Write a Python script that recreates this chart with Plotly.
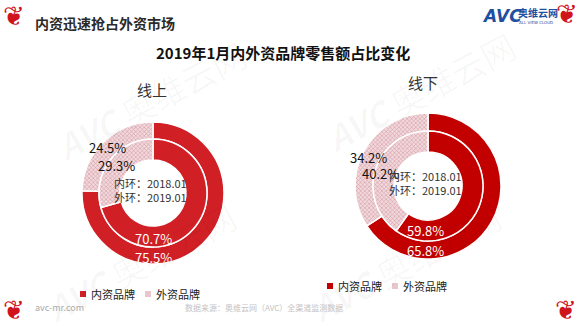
import plotly.graph_objects as go

W, H = 580, 326

# ---- data ----
labels = ["内资品牌", "外资品牌"]
online_2019 = [75.5, 24.5]    # outer ring
online_2018 = [70.7, 29.3]    # inner ring
offline_2019 = [65.8, 34.2]   # outer ring
offline_2018 = [59.8, 40.2]   # inner ring
panel_titles = ["线上", "线下"]
ring_notes = ["内环：2018.01", "外环：2019.01"]
chart_title = "2019年1月内外资品牌零售额占比变化"
header = "内资迅速抢占外资市场"
source = "数据来源：奥维云网（AVC）全渠道监测数据"
site = "avc-mr.com"

RED_L = "#D11F26"
RED_R = "#C20000"
PINK_BG = "#F0D8DC"
PINK_FG = "#D69AA3"
FONT = "Noto Sans CJK SC"


def px(x, y):
    return x / W, 1 - y / H


def dom(cx, cy, r):
    return dict(x=[(cx - r) / W, (cx + r) / W], y=[1 - (cy + r) / H, 1 - (cy - r) / H])


fig = go.Figure()

panels = [
    dict(outer=online_2019, inner=online_2018, cx=153, cy=193, r=71, ri=54, rh=33, red=RED_L,
         title_xy=(152, 90),
         lab_out=[(0, 64), (-46, -46)], lab_in=[(0, 45), (-37, -28)]),
    dict(outer=offline_2019, inner=offline_2018, cx=428, cy=186, r=73, ri=55, rh=34, red=RED_R,
         title_xy=(423, 83),
         lab_out=[(-3, 64), (-60, -29)], lab_in=[(-3, 44), (-48, -13)]),
]

annotations = []
for i, p in enumerate(panels):
    for vals, rad, hole, offs in [(p["outer"], p["r"], p["ri"] / p["r"], p["lab_out"]),
                                  (p["inner"], p["ri"], p["rh"] / p["ri"], p["lab_in"])]:
        fig.add_trace(go.Pie(
            labels=labels, values=vals, sort=False, direction="clockwise", rotation=0,
            hole=hole, domain=dom(p["cx"], p["cy"], rad), textinfo="none",
            hoverinfo="label+value", showlegend=False,
            marker=dict(colors=[p["red"], PINK_BG], line=dict(color="white", width=1.5),
                        pattern=dict(shape=["", "x"], fgcolor=PINK_FG, bgcolor=PINK_BG,
                                     size=3, solidity=0.35)),
        ))
        for v, (dx, dy), col in zip(vals, offs, ["white", "#111111"]):
            x, y = px(p["cx"] + dx, p["cy"] + dy)
            annotations.append(dict(x=x, y=y, text=f"{v:.1f}%", showarrow=False,
                                    font=dict(size=13, color=col, family=FONT),
                                    xanchor="center", yanchor="middle"))
    for k, note in enumerate(ring_notes):
        x, y = px(p["cx"] - 3, p["cy"] - 10 + 14 * k)
        annotations.append(dict(x=x, y=y, text=note, showarrow=False,
                                font=dict(size=11, color="#333333", family=FONT),
                                xanchor="center", yanchor="middle"))
    x, y = px(*p["title_xy"])
    annotations.append(dict(x=x, y=y, text=panel_titles[i], showarrow=False,
                            font=dict(size=15, color="#333333", family=FONT),
                            xanchor="center", yanchor="middle"))

# legends
shapes = []
legend_pos = [(83, 294), (330, 286)]
for (lx, ly), red in zip(legend_pos, [RED_L, RED_R]):
    for j, (lab, col) in enumerate(zip(labels, [red, "#E9C6CB"])):
        sx = lx + j * 65
        x0, y0 = px(sx - 3, ly + 3)
        x1, y1 = px(sx + 3, ly - 3)
        shapes.append(dict(type="rect", xref="paper", yref="paper", x0=x0, y0=y0, x1=x1, y1=y1,
                           fillcolor=col, line=dict(width=0)))
        tx, ty = px(sx + 6, ly)
        annotations.append(dict(x=tx, y=ty, text=lab, showarrow=False,
                                font=dict(size=11, color="#222222", family=FONT),
                                xanchor="left", yanchor="middle"))

# faint watermarks
for (wx, wy) in [(150, 100), (420, 92), (140, 262), (405, 262)]:
    x, y = px(wx, wy)
    annotations.append(dict(x=x, y=y, text="<b><i>AVC</i></b> 奥维云网", showarrow=False,
                            textangle=-28, font=dict(size=34, color="rgba(0,0,0,0.03)", family=FONT),
                            xanchor="center", yanchor="middle"))

# title, header, footer, logo
x, y = px(283, 53)
annotations.append(dict(x=x, y=y, text=f"<b>{chart_title}</b>", showarrow=False,
                        font=dict(size=15, color="#111111", family=FONT),
                        xanchor="center", yanchor="middle"))
x, y = px(33, 23)
annotations.append(dict(x=x, y=y, text=f"<b>{header}</b>", showarrow=False,
                        font=dict(size=14, color="#2a2a2a", family=FONT),
                        xanchor="left", yanchor="middle"))
x, y = px(33, 307)
annotations.append(dict(x=x, y=y, text=site, showarrow=False,
                        font=dict(size=9, color="#AAAAAA", family=FONT),
                        xanchor="left", yanchor="middle"))
x, y = px(183, 307)
annotations.append(dict(x=x, y=y, text=source, showarrow=False,
                        font=dict(size=8, color="#C4C4C4", family=FONT),
                        xanchor="left", yanchor="middle"))
x, y = px(480, 16)
annotations.append(dict(x=x, y=y, text="<b><i>AVC</i></b>", showarrow=False,
                        font=dict(size=17, color="#1E4FA0", family="DejaVu Sans"),
                        xanchor="left", yanchor="middle"))
x, y = px(516, 13)
annotations.append(dict(x=x, y=y, text="<b>奥维云网</b>", showarrow=False,
                        font=dict(size=10, color="#1E4FA0", family=FONT),
                        xanchor="left", yanchor="middle"))
x, y = px(517, 22)
annotations.append(dict(x=x, y=y, text="ALL VIEW CLOUD", showarrow=False,
                        font=dict(size=4, color="#1E4FA0", family="DejaVu Sans"),
                        xanchor="left", yanchor="middle"))

# corner ornaments
for (ox, oy) in [(14, 16), (567, 14), (14, 310), (566, 310)]:
    x, y = px(ox, oy)
    annotations.append(dict(x=x, y=y, text="❦", showarrow=False,
                            font=dict(size=26, color="#D0141C", family="DejaVu Sans"),
                            xanchor="center", yanchor="middle"))

fig.update_layout(
    width=W, height=H, margin=dict(l=0, r=0, t=0, b=0),
    paper_bgcolor="white", plot_bgcolor="white",
    annotations=annotations, shapes=shapes,
    font=dict(family=FONT),
)

fig.write_html("out.html")
